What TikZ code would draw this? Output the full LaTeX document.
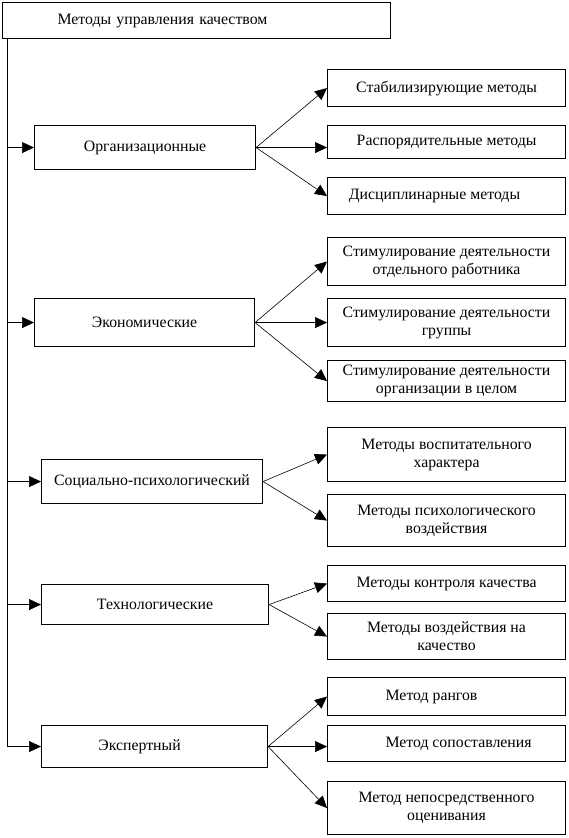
\documentclass[tikz,border=0pt]{standalone}
\usepackage{fontspec}
\setmainfont{Liberation Serif}
\usetikzlibrary{arrows.meta,positioning}

\begin{document}
\begin{tikzpicture}
  [x=1pt,y=-1pt,
  box/.style={rectangle,draw=black,line width=1.1pt,anchor=north west,inner sep=2pt,align=center,font=\fontsize{15.8}{18}\selectfont},
  method/.style={box,minimum width=238pt},
  post/.style={-{Triangle[length=12pt,width=11pt]},line width=0.6pt}
  ]
  \useasboundingbox (0,0) rectangle (568,838);
  % root of the tree
  \node[box,minimum height=36pt,text width=384pt,align=left] (quality) at (2,2)
    {\hspace*{53pt}Методы управления качеством};
  % groups of methods
  \node[box,minimum width=221pt,minimum height=44pt] (org) at (34,125) {Организационные};
  \node[box,minimum width=220pt,minimum height=48pt] (econ) at (34,298) {Экономические};
  \node[box,minimum width=221pt,minimum height=44pt] (soc) at (41,459) {Социально-психологический};
  \node[box,minimum width=227pt,minimum height=40pt] (tech) at (41,584) {Технологические};
  \node[box,minimum width=226pt,minimum height=42pt] (expert) at (41,725) {Экспертный\hspace*{30pt}};
  % single methods
  \node[method,minimum height=37pt] (stab) at (327,69) {Стабилизирующие методы};
  \node[method,minimum height=33pt] (rasp) at (327,125) {Распорядительные методы};
  \node[method,minimum height=37pt] (disc) at (327,177) {Дисциплинарные методы\hspace*{24pt}};
  \node[method,minimum height=48pt] (stimw) at (327,237) {Стимулирование деятельности\\отдельного работника};
  \node[method,minimum height=48pt] (stimg) at (327,298) {Стимулирование деятельности\\группы};
  \node[method,minimum height=41pt] (stimo) at (327,360) {Стимулирование деятельности\\организации в целом};
  \node[method,minimum height=54pt] (educ) at (327,427) {Методы воспитательного\\характера};
  \node[method,minimum height=52pt] (psych) at (327,494) {Методы психологического\\воздействия};
  \node[method,minimum height=36pt] (control) at (327,565) {Методы контроля качества};
  \node[method,minimum height=46pt] (impact) at (327,613) {Методы воздействия на\\качество};
  \node[method,minimum height=38pt] (ranks) at (327,677) {Метод рангов\hspace*{30pt}};
  \node[method,minimum height=36pt] (compare) at (327,725) {\hspace*{24pt}Метод сопоставления};
  \node[method,minimum height=53pt] (direct) at (327,781) {Метод непосредственного\\оценивания};
  % trunk and branches
  \coordinate (trunk) at ([xshift=5pt]quality.south west);
  \draw[line width=0.8pt] (trunk) -- (trunk |- expert.west);
  \foreach \group in {org,econ,soc,tech,expert}
    \draw[post] (trunk |- \group.west) -- (\group.west);
  \foreach \m in {stab,disc}
    \draw[post] (org.east) -- (\m.west);
  \draw[post] (org.east) -- (org.east -| rasp.west);
  \foreach \m in {stimw,stimg,stimo}
    \draw[post] (econ.east) -- (\m.west);
  \foreach \m in {educ,psych}
    \draw[post] (soc.east) -- (\m.west);
  \foreach \m in {control,impact}
    \draw[post] (tech.east) -- (\m.west);
  \foreach \m in {ranks,direct}
    \draw[post] (expert.east) -- (\m.west);
  \draw[post] (expert.east) -- (expert.east -| compare.west);
\end{tikzpicture}
\end{document}
